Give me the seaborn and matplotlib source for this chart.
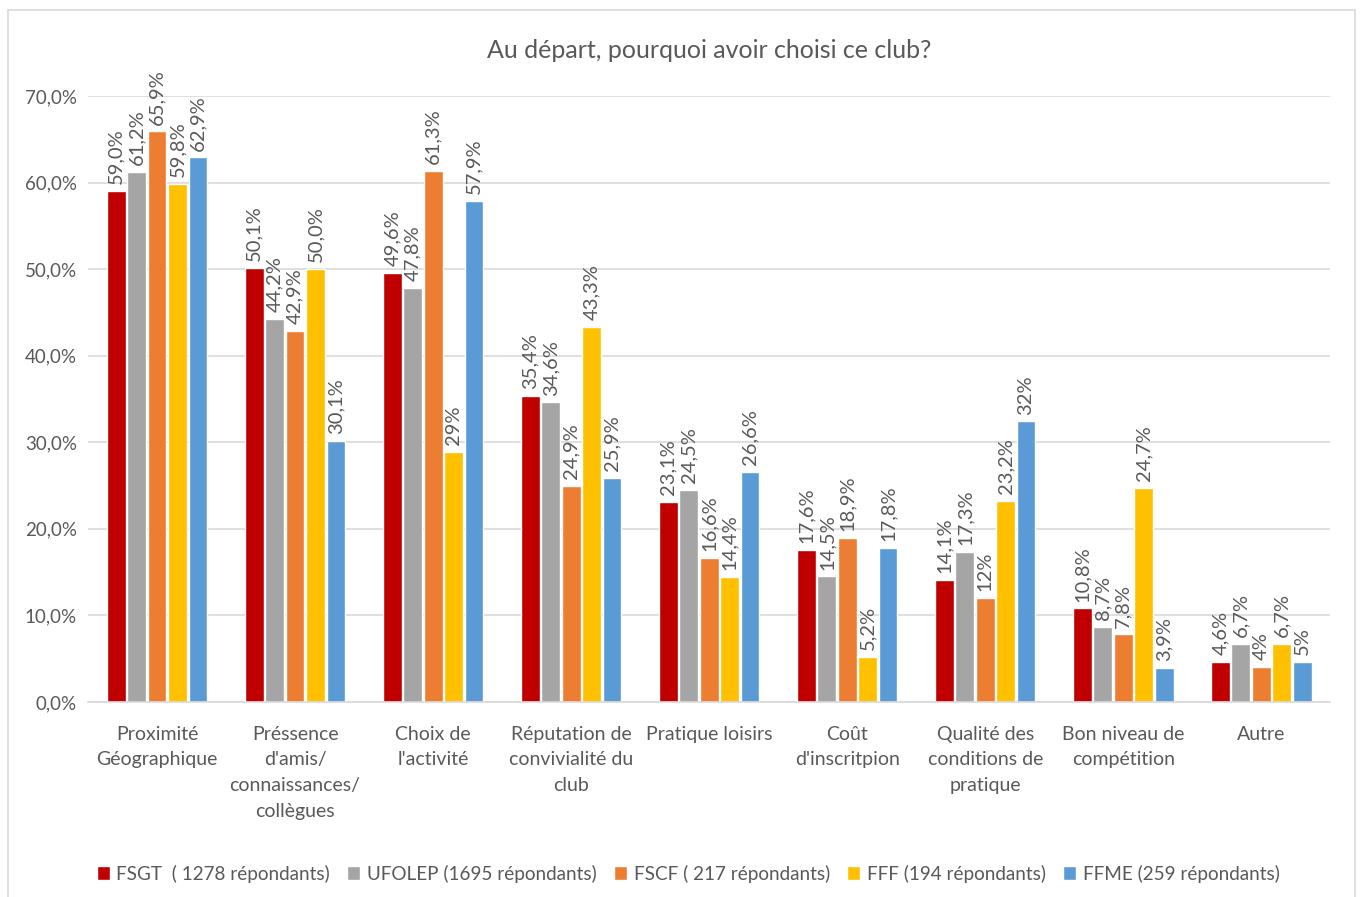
import pandas as pd
import seaborn as sns
import matplotlib.pyplot as plt
from matplotlib.patches import Rectangle
from matplotlib.ticker import FuncFormatter

categories = ["Proximité\nGéographique", "Préssence\nd'amis/\nconnaissances/\ncollègues",
              "Choix de\nl'activité", "Réputation de\nconvivialité du\nclub", "Pratique loisirs",
              "Coût\nd'inscritpion", "Qualité des\nconditions de\npratique",
              "Bon niveau de\ncompétition", "Autre"]
series = ["FSGT  ( 1278 répondants)", "UFOLEP (1695 répondants)", "FSCF ( 217 répondants)",
          "FFF (194 répondants)", "FFME (259 répondants)"]
colors = ["#C00000", "#A5A5A5", "#ED7D31", "#FFC000", "#5B9BD5"]

fsgt = [59.0, 50.1, 49.6, 35.4, 23.1, 17.6, 14.1, 10.8, 4.6]
ufolep = [61.2, 44.2, 47.8, 34.6, 24.5, 14.5, 17.3, 8.7, 6.7]
fscf = [65.9, 42.9, 61.3, 24.9, 16.6, 18.9, 12.0, 7.8, 4.0]
fff = [59.8, 50.0, 28.9, 43.3, 14.4, 5.2, 23.2, 24.7, 6.7]
ffme = [62.9, 30.1, 57.9, 25.9, 26.6, 17.8, 32.4, 3.9, 4.6]

fsgt_lbl = ["59,0%", "50,1%", "49,6%", "35,4%", "23,1%", "17,6%", "14,1%", "10,8%", "4,6%"]
ufolep_lbl = ["61,2%", "44,2%", "47,8%", "34,6%", "24,5%", "14,5%", "17,3%", "8,7%", "6,7%"]
fscf_lbl = ["65,9%", "42,9%", "61,3%", "24,9%", "16,6%", "18,9%", "12%", "7,8%", "4%"]
fff_lbl = ["59,8%", "50,0%", "29%", "43,3%", "14,4%", "5,2%", "23,2%", "24,7%", "6,7%"]
ffme_lbl = ["62,9%", "30,1%", "57,9%", "25,9%", "26,6%", "17,8%", "32%", "3,9%", "5%"]

values = [fsgt, ufolep, fscf, fff, ffme]
labels = [fsgt_lbl, ufolep_lbl, fscf_lbl, fff_lbl, ffme_lbl]

rows = []
for s, vals in zip(series, values):
    for c, v in zip(categories, vals):
        rows.append({"cat": c, "serie": s, "val": v})
df = pd.DataFrame(rows)

sns.set_style("white")
plt.rcParams["font.family"] = ["Lato", "DejaVu Sans"]
txt = "#595959"

fig = plt.figure(figsize=(13.63, 8.97), dpi=100)
ax = fig.add_axes([0.0646, 0.2174, 0.9114, 0.6756])
sns.barplot(data=df, x="cat", y="val", hue="serie", palette=colors, saturation=1,
            width=0.74, gap=0.08, ax=ax, legend=True)

for cont, lbl in zip(ax.containers, labels):
    ax.bar_label(cont, labels=lbl, rotation=90, padding=5, fontsize=14.5, color=txt)

ax.set_ylim(0, 70)
ax.set_xlim(-0.5, len(categories) - 0.5)
ax.set_yticks(range(0, 71, 10))
ax.yaxis.set_major_formatter(FuncFormatter(lambda v, p: f"{v:.1f}%".replace(".", ",")))
ax.set_xticks(range(len(categories)))
ax.set_xticklabels(categories, linespacing=1.62)
ax.grid(axis="y", color="#D9D9D9", linewidth=1.2)
ax.set_axisbelow(True)
for sp in ["left", "right", "top"]:
    ax.spines[sp].set_visible(False)
ax.spines["bottom"].set_color("#D9D9D9")
ax.spines["bottom"].set_linewidth(1.2)
ax.tick_params(axis="y", length=0, labelsize=13.5, colors=txt, pad=8)
ax.tick_params(axis="x", length=0, labelsize=14, colors=txt, pad=17)
ax.set_xlabel("")
ax.set_ylabel("")
ax.set_title("Au départ, pourquoi avoir choisi ce club?", fontsize=18, color=txt, pad=27)

ax.legend(loc="center", bbox_to_anchor=(0.483, -0.283), ncol=5, frameon=False, fontsize=13.6,
          handlelength=0.7, handleheight=0.7, handletextpad=0.35, columnspacing=0.9,
          labelcolor=txt)

fig.patches.append(Rectangle((8 / 1363, -0.01), 1347 / 1363, 1 - 10 / 897 + 0.01,
                             transform=fig.transFigure, fill=False, edgecolor="#D9D9D9",
                             linewidth=1.2))

fig.savefig("out.png", dpi=100, facecolor="white")
